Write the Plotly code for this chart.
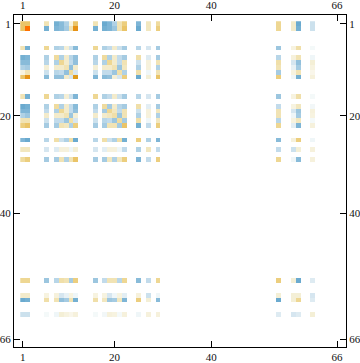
import plotly.graph_objects as go

size = 66
indices = [1,2,6,8,9,10,11,12,16,18,19,20,21,22,25,27,29,54,57,58,61]
tick_vals = [1,20,40,66]
r1  = [.55,.55,.3,-.65,-.55,-.35,.1,.55,.3,-.7,-.6,-.35,.3,.5,-.6,.25,.4,.45,.2,-.7,-.2]
r2  = [.55,1,-.65,-.6,-.55,-.4,.3,.8,-.65,-.65,-.6,-.45,.3,.55,-.7,.25,.5,.45,.2,-.65,-.2]
r6  = [.3,-.65,.45,-.35,-.3,.15,-.2,-.55,.45,-.35,-.25,.2,-.2,-.4,-.3,-.15,-.4,-.45,.1,.35,-.03]
r8  = [-.65,-.6,-.35,.4,-.35,.2,-.3,-.5,-.35,.4,-.35,.2,-.25,-.4,.35,-.12,-.4,-.3,.12,.3,-.05]
r9  = [-.55,-.55,-.3,-.35,.45,.2,-.25,-.5,-.3,-.35,.45,.2,-.25,.3,-.2,.12,.3,.35,-.15,-.5,.15]
r10 = [-.35,-.4,.15,.2,.2,.3,-.5,.2,.15,.2,.2,.3,-.45,.25,-.35,.12,-.35,.3,-.08,-.4,.1]
r11 = [.1,.3,-.2,-.3,-.25,-.5,.4,-.15,-.2,-.25,-.25,-.45,.35,-.35,.35,-.05,.3,-.4,.1,.3,.05]
r12 = [.55,.8,-.55,-.5,-.5,.2,-.15,.75,-.6,-.55,-.5,.15,-.15,.5,-.7,.15,.55,.5,-.05,-.65,.12]
r16 = [.3,-.65,.45,-.35,-.3,.15,-.2,-.6,.45,-.35,-.25,.2,-.2,-.4,-.3,-.15,-.4,-.45,.1,.35,-.03]
r18 = [-.7,-.65,-.35,.4,-.35,.2,-.25,-.55,-.35,.4,-.4,.2,-.3,-.4,.35,-.1,-.4,-.25,.1,.25,-.04]
r19 = [-.6,-.6,-.25,-.35,.45,.2,-.25,-.5,-.25,-.4,.45,.25,-.25,.3,-.2,.12,.25,.3,-.15,-.45,.12]
r20 = [-.35,-.45,.2,.2,.2,.3,-.45,.15,.2,.2,.25,.35,-.45,.3,-.35,.12,-.35,.3,-.05,-.4,.1]
r21 = [.3,.3,-.2,-.25,-.25,-.45,.35,-.15,-.2,-.3,-.25,-.45,.4,-.4,.35,-.05,.25,-.3,.1,.25,-.03]
r22 = [.5,.55,-.4,-.4,.3,.25,-.35,.5,-.4,-.4,.3,.3,-.4,.55,-.65,-.25,.5,.45,-.1,-.6,.12]
r25 = [-.6,-.7,-.3,.35,-.2,-.35,.35,-.7,-.3,.35,-.2,-.35,.35,-.65,.5,-.35,-.6,-.55,.12,.5,-.05]
r27 = [.25,.25,-.15,-.12,.12,.12,-.05,.15,-.15,-.1,.12,.12,-.05,-.25,-.35,.25,-.25,-.25,-.2,.15,.12]
r29 = [.4,.5,-.4,-.4,.3,-.35,.3,.55,-.4,-.4,.25,-.35,.25,.5,-.6,-.25,.5,.45,-.05,-.55,.12]
r54 = [.45,.45,-.45,-.3,.35,.3,-.4,.5,-.45,-.25,.3,.3,-.3,.45,-.55,-.25,.45,.5,.15,-.7,-.12]
r57 = [.2,.2,.1,.12,-.15,-.08,.1,-.05,.1,.1,-.15,-.05,.1,-.1,.12,-.2,-.05,.15,.15,.15,-.15]
r58 = [-.7,-.65,.35,.3,-.5,-.4,.3,-.65,.35,.25,-.45,-.4,.25,-.6,.5,.15,-.55,-.7,.15,.45,-.12]
r61 = [-.2,-.2,-.03,-.05,.15,.1,.05,.12,-.03,-.04,.12,.1,-.03,.12,-.05,.12,.12,-.12,-.15,-.12,.15]
rows = [r1,r2,r6,r8,r9,r10,r11,r12,r16,r18,r19,r20,r21,r22,r25,r27,r29,r54,r57,r58,r61]

stops = [(-1,'#3f8fc0'),(-.7,'#6aaacf'),(-.5,'#92c0dc'),(-.3,'#b8d6e8'),(-.15,'#d6e6f0'),(-.03,'#f4f9f9'),
         (0,'#ffffff'),(.05,'#f9f6ea'),(.15,'#f4efd6'),(.3,'#f1e3b4'),(.45,'#eed793'),(.55,'#eac468'),
         (.75,'#e09a1a'),(1,'#ff7000')]
colorscale = [[(v+1)/2, c] for v, c in stops]

axis_vals = list(range(1, size+1))
z = [[None]*size for _ in axis_vals]
for i, row in zip(indices, rows):
    for j, v in zip(indices, row):
        z[i-1][j-1] = v

fig = go.Figure()
fig.add_trace(go.Heatmap(x=axis_vals, y=axis_vals, z=z, colorscale=colorscale, zmin=-1, zmax=1,
                         showscale=False, hoverongaps=False))
fig.add_trace(go.Scatter(x=[1,size], y=[1,size], xaxis='x2', yaxis='y2', mode='none', showlegend=False))

font = dict(family='Liberation Serif', size=11, color='#111111')
common = dict(tickmode='array', tickvals=tick_vals, ticktext=[str(t) for t in tick_vals], ticks='outside',
              ticklen=-5, tickwidth=1.2, tickcolor='black', showline=True, linecolor='black', linewidth=1.3,
              showgrid=False, zeroline=False, tickfont=font, automargin=False)
common['ticks'] = 'inside'
common['ticklen'] = 6
xr = [-0.8, 67.86]
yr = [67.59, -0.79]
layout_axes = dict(
    xaxis=dict(range=xr, side='bottom', **common),
    yaxis=dict(range=yr, side='left', **common),
    xaxis2=dict(range=xr, side='top', matches='x', overlaying='x', anchor='y', **common),
    yaxis2=dict(range=yr, side='right', matches='y', overlaying='y', anchor='x', **common),
)
fig.update_layout(
    template='none',
    width=360, height=363, margin=dict(l=13.5, r=13.7, t=15.3, b=16, pad=0, autoexpand=False),
    paper_bgcolor='white', plot_bgcolor='white', showlegend=False, **layout_axes)
fig.write_html("out.html", post_script="document.body.style.margin='0';", config={"displayModeBar": False})
